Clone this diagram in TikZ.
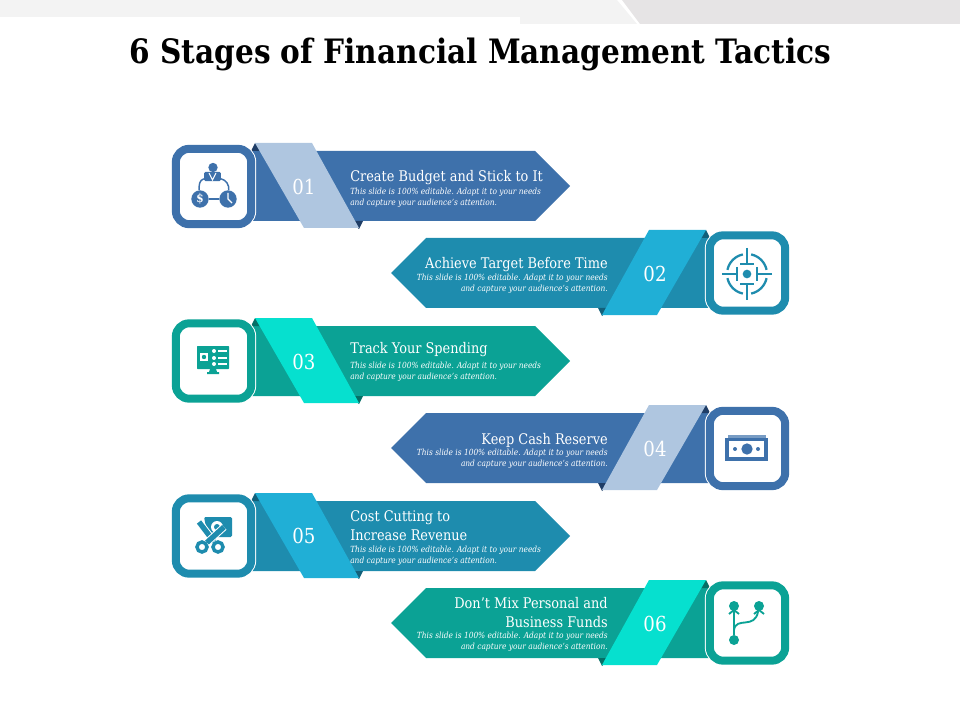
\documentclass[tikz,border=0pt]{standalone}
\usepackage{fontspec}
\setmainfont[FakeStretch=0.88]{DejaVu Serif}
\definecolor{bandA}{HTML}{3E71AB}
\definecolor{ribA}{HTML}{AFC6E0}
\definecolor{darkA}{HTML}{1F3D66}
\definecolor{bandB}{HTML}{1E8CAE}
\definecolor{ribB}{HTML}{20AFD6}
\definecolor{darkB}{HTML}{12607A}
\definecolor{bandC}{HTML}{0BA295}
\definecolor{ribC}{HTML}{06E0CF}
\definecolor{darkC}{HTML}{056F66}
\definecolor{stripA}{HTML}{F3F3F3}
\definecolor{stripB}{HTML}{E6E4E5}
\begin{document}
\begin{tikzpicture}[x=0.75pt,y=-0.75pt,
	iconbox/.style={rectangle,rounded corners=10pt,fill=white,line width=6pt,minimum size=56.5pt,inner sep=0pt,preaction={draw=white,line width=7.5pt}},
	headline/.style={text=white,font=\fontsize{11}{14.2}\selectfont,inner sep=0pt},
	subline/.style={text=white,font=\fontsize{6.35}{8.2}\selectfont\itshape,inner sep=0pt},
	number/.style={text=white,font=\fontsize{15.5}{16}\selectfont,inner sep=0pt},
	dot/.style={circle,inner sep=0pt,minimum size=#1},
	iconline/.style={line width=1.7pt}]
	\useasboundingbox (0,0) rectangle (960,720);
	\fill [stripA] (0,0) -- (617,0) -- (637,24) -- (520,24) -- (520,17) -- (0,17) -- cycle;
	\fill [stripB] (622,0) -- (960,0) -- (960,24) -- (640,24) -- cycle;
	\node [font=\fontsize{25.2}{28}\selectfont\bfseries,inner sep=0pt] (title) at (480.5,54) {6 Stages of Financial Management Tactics};

	\begin{scope}[shift={(0,186)}]
		\fill [bandA] (250,-35) -- (535,-35) -- (570,0) -- (535,35) -- (250,35) -- cycle;
		\fill [darkA] (251,-35) -- (255,-43) -- (264,-35) -- cycle;
		\fill [darkA] (350,35) -- (363,35) -- (359,43) -- cycle;
		\fill [ribA] (255,-43) -- (312,-43) -- (359,42) -- (304,42) -- cycle;
	\end{scope}
	\begin{scope}[shift={(961,273)},xscale=-1]
		\fill [bandB] (250,-35) -- (535,-35) -- (570,0) -- (535,35) -- (250,35) -- cycle;
		\fill [darkB] (251,-35) -- (255,-43) -- (264,-35) -- cycle;
		\fill [darkB] (350,35) -- (363,35) -- (359,43) -- cycle;
		\fill [ribB] (255,-43) -- (312,-43) -- (359,42) -- (304,42) -- cycle;
	\end{scope}
	\begin{scope}[shift={(0,361)}]
		\fill [bandC] (250,-35) -- (535,-35) -- (570,0) -- (535,35) -- (250,35) -- cycle;
		\fill [darkC] (251,-35) -- (255,-43) -- (264,-35) -- cycle;
		\fill [darkC] (350,35) -- (363,35) -- (359,43) -- cycle;
		\fill [ribC] (255,-43) -- (312,-43) -- (359,42) -- (304,42) -- cycle;
	\end{scope}
	\begin{scope}[shift={(961,448)},xscale=-1]
		\fill [bandA] (250,-35) -- (535,-35) -- (570,0) -- (535,35) -- (250,35) -- cycle;
		\fill [darkA] (251,-35) -- (255,-43) -- (264,-35) -- cycle;
		\fill [darkA] (350,35) -- (363,35) -- (359,43) -- cycle;
		\fill [ribA] (255,-43) -- (312,-43) -- (359,42) -- (304,42) -- cycle;
	\end{scope}
	\begin{scope}[shift={(0,536)}]
		\fill [bandB] (250,-35) -- (535,-35) -- (570,0) -- (535,35) -- (250,35) -- cycle;
		\fill [darkB] (251,-35) -- (255,-43) -- (264,-35) -- cycle;
		\fill [darkB] (350,35) -- (363,35) -- (359,43) -- cycle;
		\fill [ribB] (255,-43) -- (312,-43) -- (359,42) -- (304,42) -- cycle;
	\end{scope}
	\begin{scope}[shift={(961,623)},xscale=-1]
		\fill [bandC] (250,-35) -- (535,-35) -- (570,0) -- (535,35) -- (250,35) -- cycle;
		\fill [darkC] (251,-35) -- (255,-43) -- (264,-35) -- cycle;
		\fill [darkC] (350,35) -- (363,35) -- (359,43) -- cycle;
		\fill [ribC] (255,-43) -- (312,-43) -- (359,42) -- (304,42) -- cycle;
	\end{scope}

	\node [iconbox,draw=bandA] (box1) at (213.5,186.5) {};
	\node [iconbox,draw=bandB] (box2) at (747.5,273) {};
	\node [iconbox,draw=bandC] (box3) at (213.5,361) {};
	\node [iconbox,draw=bandA] (box4) at (747.5,448.5) {};
	\node [iconbox,draw=bandB] (box5) at (213.5,536) {};
	\node [iconbox,draw=bandC] (box6) at (747.5,623) {};

	\node [number] (num1) at (304,187) {01};
	\node [number] (num2) at (655,274) {02};
	\node [number] (num3) at (304,362) {03};
	\node [number] (num4) at (655,449) {04};
	\node [number] (num5) at (304,536) {05};
	\node [number] (num6) at (655,624) {06};

	\node [headline,anchor=west] (head1) at (350,178) {Create Budget and Stick to It};
	\node [subline,anchor=north west,align=left] (sub1) at (350,188) {This slide  is 100\% editable. Adapt it to your needs\\and capture your audience's attention.};
	\node [headline,anchor=east] (head2) at (608,265) {Achieve Target Before Time};
	\node [subline,anchor=north east,align=right] (sub2) at (608,274) {This slide  is 100\% editable. Adapt it to your needs\\and capture your audience's attention.};
	\node [headline,anchor=west] (head3) at (350,350) {Track Your Spending};
	\node [subline,anchor=north west,align=left] (sub3) at (350,362) {This slide  is 100\% editable. Adapt it to your needs\\and capture your audience's attention.};
	\node [headline,anchor=east] (head4) at (608,440) {Keep Cash Reserve};
	\node [subline,anchor=north east,align=right] (sub4) at (608,449) {This slide  is 100\% editable. Adapt it to your needs\\and capture your audience's attention.};
	\node [headline,anchor=north west,align=left] (head5) at (350,510.5) {Cost Cutting to\\Increase Revenue};
	\node [subline,anchor=north west,align=left] (sub5) at (350,546) {This slide  is 100\% editable. Adapt it to your needs\\and capture your audience's attention.};
	\node [headline,anchor=north east,align=right] (head6) at (608,597.5) {Don’t Mix Personal and\\Business Funds};
	\node [subline,anchor=north east,align=right] (sub6) at (608,632) {This slide  is 100\% editable. Adapt it to your needs\\and capture your audience's attention.};

	\node [dot=13pt,fill=bandA,text=white,font=\fontsize{9}{9}\selectfont\bfseries] (dollar) at (200,199) {\$};
	\node [dot=13pt,fill=bandA] (clock) at (228,199) {};
	\node [dot=7pt,fill=bandA] (boss) at (213,167.5) {};
	\node [rectangle,rounded corners=1pt,fill=bandA,minimum width=12.5pt,minimum height=7pt,inner sep=0pt] (suit) at (212.5,176.5) {};
	\draw [white,line width=0.8pt] (209,173) -- (212.5,180) -- (216,173);
	\draw [bandA,line width=1.1pt] (dollar) to [out=95,in=195] (suit);
	\draw [bandA,line width=1.1pt] (clock) to [out=85,in=-15] (suit);
	\draw [bandA,line width=1.1pt] (dollar) -- (clock);
	\draw [white,line width=1pt] (228,193) -- (228,199) -- (232,203);

	\node [dot=6.5pt,fill=bandB] (bull) at (747,274) {};
	\draw [bandB,iconline] (bull) ++(12:20) arc (12:78:20);
	\draw [bandB,iconline] (bull) ++(102:20) arc (102:168:20);
	\draw [bandB,iconline] (bull) ++(192:20) arc (192:258:20);
	\draw [bandB,iconline] (bull) ++(282:20) arc (282:348:20);
	\draw [bandB,iconline] (747,248) -- (747,264) (740,264) -- (754,264);
	\draw [bandB,iconline] (747,300) -- (747,284) (740,284) -- (754,284);
	\draw [bandB,iconline] (722,274) -- (737,274) (737,267) -- (737,281);
	\draw [bandB,iconline] (772,274) -- (757,274) (757,267) -- (757,281);

	\node [rectangle,rounded corners=0.5pt,fill=bandC,minimum width=24pt,minimum height=17.25pt,inner sep=0pt] (screen) at (213,357.5) {};
	\fill [bandC] (210,369) -- (216,369) -- (217,372) -- (219,372) -- (219,374) -- (207,374) -- (207,372) -- (209,372) -- cycle;
	\node [rectangle,fill=white,minimum size=6.5pt,inner sep=0pt] (pane) at (204,357) {};
	\fill [bandC] (204,357) circle (2.2);
	\node [dot=3pt,fill=white] (tickA) at (214,351) {};
	\node [dot=3pt,fill=white] (tickB) at (214,358) {};
	\node [dot=3pt,fill=white] (tickC) at (214,364) {};
	\draw [white,line width=0.8pt] (218,351) -- (227,351) (218,358) -- (227,358) (218,364) -- (227,364);

	\fill [bandA!70] (728,435) rectangle (766,438);
	\fill [bandA] (725,438) rectangle (768,461);
	\fill [white] (729,441) rectangle (764,457);
	\node [dot=8.5pt,fill=bandA] (coin) at (747,449) {};
	\node [dot=3pt,fill=bandA] (spotA) at (735,449) {};
	\node [dot=3pt,fill=bandA] (spotB) at (758,449) {};

	\fill [bandB,rounded corners=1pt] (204,517) -- (232,517) -- (232,537) -- (208,537) -- cycle;
	\node [dot=9pt,fill=white] (eye) at (217,527) {};
	\node [dot=4.5pt,fill=bandB] (pupil) at (217,527) {};
	\node [dot=7.5pt,draw=bandB,line width=2.6pt,fill=white] (ringA) at (202,547) {};
	\node [dot=7.5pt,draw=bandB,line width=2.6pt,fill=white] (ringB) at (218,547) {};
	\draw [white,line width=5.5pt] (199,522) -- (ringB);
	\draw [bandB,line width=4pt] (199,522) -- (ringB);
	\draw [white,line width=5.5pt] (224,527) -- (ringA);
	\draw [bandB,line width=4pt] (224,527) -- (ringA);

	\node [dot=7.5pt,fill=bandC] (leafA) at (734,606) {};
	\node [dot=7.5pt,fill=bandC] (leafB) at (759,606) {};
	\node [dot=7.5pt,fill=bandC] (root) at (734,640) {};
	\draw [bandC,line width=1.4pt] (root) -- (leafA);
	\draw [bandC,line width=1.4pt] (734,630) .. controls (736,616) and (755,630) .. (leafB);
	\draw [bandC,line width=1.4pt] (729,614) -- (734,610) -- (739,614);
	\draw [bandC,line width=1.4pt] (754,614) -- (759,610) -- (764,614);
\end{tikzpicture}
\end{document}
